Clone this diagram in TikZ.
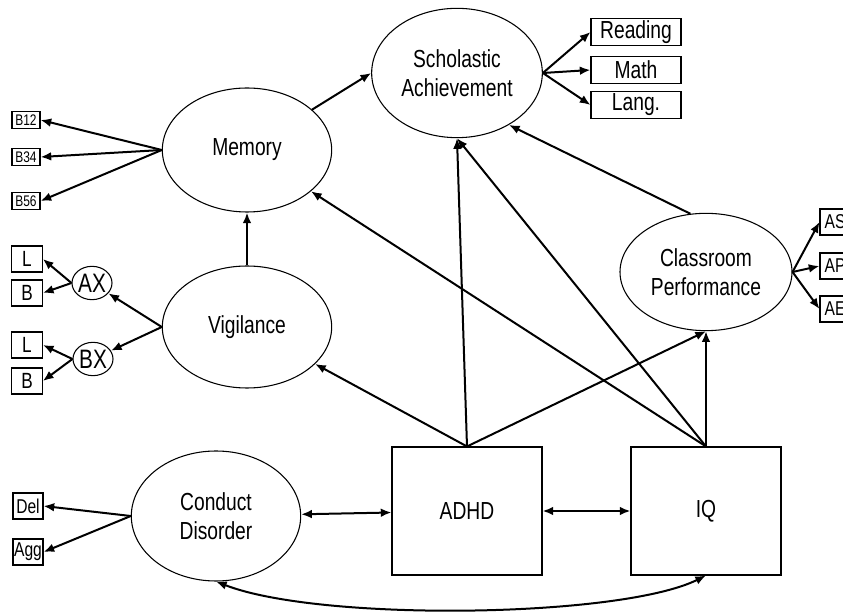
\documentclass[tikz,border=0pt]{standalone}
\usepackage{fontspec}
\setmainfont{Liberation Sans}[FakeStretch=0.78]
\usepackage{tikz}
\usetikzlibrary{arrows.meta}
\usetikzlibrary{shapes.geometric}

\begin{document}
\begin{tikzpicture}[x=0.75pt,y=-0.75pt,->,>={Latex[length=8pt,width=6.5pt]},line width=1.5pt,
    latent node/.style={ellipse,draw,line width=0.8pt,inner sep=0pt,minimum width=127pt,minimum height=93pt,align=center,font=\fontsize{18.5}{22}\selectfont},
    main node/.style={rectangle,draw,line width=0.8pt,minimum width=112.5pt,minimum height=96pt,font=\fontsize{18.5}{22}\selectfont},
    ind node/.style={rectangle,draw,line width=0.8pt,inner sep=0pt,minimum width=67.5pt,minimum height=20pt,font=\fontsize{18.5}{20}\selectfont},
    small node/.style={rectangle,draw,line width=0.8pt,inner sep=0pt,minimum width=23pt,minimum height=19.5pt,font=\fontsize{16.5}{18}\selectfont},
    tiny node/.style={rectangle,draw,line width=0.8pt,inner sep=0pt,minimum width=21pt,minimum height=13pt,font=\fontsize{11.5}{12}\selectfont},
    task node/.style={ellipse,draw,line width=0.8pt,inner sep=0pt,minimum width=30pt,minimum height=25pt,font=\fontsize{20}{20}\selectfont}]
    \clip (0,0) rectangle (843,616);
    % latent variables
    \node[latent node,minimum width=128pt,minimum height=97pt] (sch) at (457,73) {Scholastic\\Achievement};
    \node[latent node] (mem) at (247,150) {Memory};
    \node[latent node,minimum height=91.5pt] (vig) at (247,327) {Vigilance};
    \node[latent node,minimum width=129pt,minimum height=88pt] (cls) at (706,272) {Classroom\\Performance};
    \node[latent node,minimum height=97.5pt] (con) at (216,516) {Conduct\\Disorder};
    \node[main node] (adhd) at (467,511) {ADHD};
    \node[main node] (iq) at (706,511) {IQ};
    % indicators
    \node[ind node] (read) at (636,32) {Reading};
    \node[ind node] (math) at (636,70) {Math};
    \node[ind node] (lang) at (636,105) {Lang.};
    \node[tiny node] (b12) at (26,120) {B12};
    \node[tiny node] (b34) at (26,157) {B34};
    \node[tiny node] (b56) at (26,201) {B56};
    \node[task node] (ax) at (92,283) {AX};
    \node[task node] (bx) at (93,359) {BX};
    \node[small node] (la) at (27,259) {L};
    \node[small node] (ba) at (27,293) {B};
    \node[small node] (lb) at (27,345) {L};
    \node[small node] (bb) at (27,381) {B};
    \node[small node,minimum width=22.5pt,font=\fontsize{15}{16}\selectfont] (del) at (28,506) {Del};
    \node[small node,minimum width=22.5pt,font=\fontsize{15}{16}\selectfont] (agg) at (28,552) {Agg};
    \node[small node,minimum width=22.5pt,font=\fontsize{15}{16}\selectfont] (as) at (835,222) {AS};
    \node[small node,minimum width=22.5pt,font=\fontsize{15}{16}\selectfont] (ap) at (835,266) {AP};
    \node[small node,minimum width=22.5pt,font=\fontsize{15}{16}\selectfont] (ae) at (835,309) {AE};

    \path (sch.east) edge (read.west) edge (math.west) edge (lang.west);
    \path (mem.west) edge (b12.east) edge (b34.east) edge (b56.east);
    \path (vig.west) edge (ax) edge (bx);
    \path (ax.west) edge (la.east) edge (ba.east);
    \path (bx.west) edge (lb.east) edge (bb.east);
    \path (con.west) edge (del.east) edge (agg.east);
    \path (cls.east) edge (as.west) edge (ap.west) edge (ae.west);
    \path (mem) edge (sch.west);
    \path (vig) edge (mem);
    \path (cls.105) edge (sch.-45);
    \path (adhd.north) edge (vig) edge (sch.south) edge (cls.south);
    \path (iq.north) edge (mem) edge (sch.south) edge (cls.south);
    \path[<->] (con) edge (adhd);
    \path[<->] (adhd) edge (iq);
    \draw[<->] (con.south) .. controls (320,622) and (620,618) .. (iq.south);
\end{tikzpicture}
\end{document}
